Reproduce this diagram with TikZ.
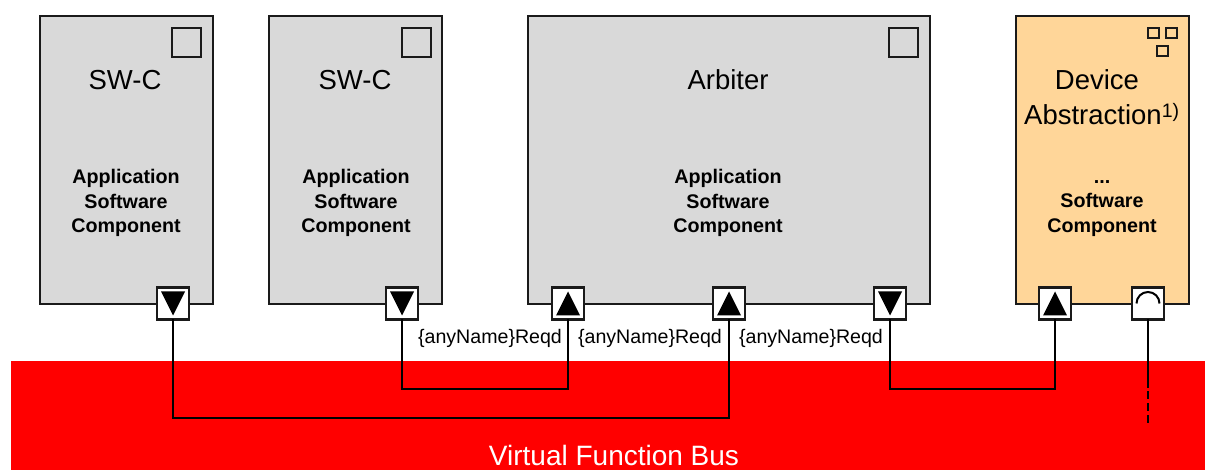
\documentclass[tikz,border=0pt]{standalone}
\usepackage{fontspec}
\setmainfont{Liberation Sans}
\definecolor{boxgrey}{HTML}{D9D9D9}
\definecolor{boxorange}{HTML}{FFD699}
\definecolor{linek}{HTML}{1A1A1A}
\tikzset{
  comp/.style={draw=linek,line width=2.4pt,rectangle,inner sep=0pt,outer sep=0pt,anchor=north west},
  mark box/.style={draw=linek,line width=2pt,rectangle,inner sep=0pt,outer sep=0pt,minimum size=#1,anchor=north west},
  port/.style={draw=linek,fill=white,line width=2.4pt,rectangle,inner sep=0pt,outer sep=0pt,minimum size=32pt},
  portup/.style={port,path picture={\fill[black] ([shift={(-12pt,-12pt)}]path picture bounding box.center) -- ++(24pt,0pt) -- ++(-12pt,24pt) -- cycle;}},
  portdown/.style={port,path picture={\fill[black] ([shift={(-12pt,12pt)}]path picture bounding box.center) -- ++(24pt,0pt) -- ++(-12pt,-24pt) -- cycle;}},
  portarc/.style={port,path picture={\draw[black,line width=2pt] ([shift={(-11.5pt,0pt)}]path picture bounding box.center) arc[start angle=180,end angle=0,radius=11.5pt];}},
  wire/.style={draw=black,line width=2.3pt,line join=miter},
  title/.style={font=\fontsize{27.5}{30}\selectfont,text=black,inner sep=0pt},
  kind/.style={font=\bfseries\fontsize{19.7}{24.5}\selectfont,align=center,text=black,inner sep=0pt},
  reqd/.style={font=\fontsize{19.6}{22}\selectfont,text=black,inner sep=0pt},
}
\begin{document}
\begin{tikzpicture}[x=1pt,y=-1pt]
\useasboundingbox (0,0) rectangle (1205,470);
% bus
\node[fill=red,rectangle,inner sep=0pt,outer sep=0pt,minimum width=1194pt,minimum height=109pt,anchor=north west] (bus) at (11,361) {};
\node[font=\fontsize{28}{30}\selectfont,text=white,inner sep=0pt] (buslabel) at (614,455) {Virtual Function Bus};
% components
\node[comp,fill=boxgrey,minimum width=173pt,minimum height=288pt] (c1) at (40,16) {};
\node[comp,fill=boxgrey,minimum width=173pt,minimum height=288pt] (c2) at (269,16) {};
\node[comp,fill=boxgrey,minimum width=402pt,minimum height=288pt] (c3) at (528,16) {};
\node[comp,fill=boxorange,minimum width=173pt,minimum height=288pt] (c4) at (1016,16) {};
% corner marks
\node[mark box=29pt] (m1) at (172,28) {};
\node[mark box=29pt] (m2) at (402,28) {};
\node[mark box=29pt] (m3) at (889,28) {};
\node[mark box=10.5pt] (m4a) at (1148,28) {};
\node[mark box=10.5pt] (m4b) at (1166,28) {};
\node[mark box=10.5pt] (m4c) at (1157,46) {};
% titles
\node[title] (t1) at (125,80) {SW-C};
\node[title] (t2) at (355,80) {SW-C};
\node[title] (t3) at (728,80) {Arbiter};
\node[title] (t4a) at (1097,80) {Device};
\node[title,anchor=west] (t4b) at (1024,114) {Abstraction\raisebox{7.5pt}{\fontsize{19.5}{20}\selectfont 1)}};
% kinds
\node[kind] (k1) at (126,203) {Application\\Software\\Component};
\node[kind] (k2) at (356,203) {Application\\Software\\Component};
\node[kind] (k3) at (728,203) {Application\\Software\\Component};
\node[kind] (k4) at (1102,203) {\vphantom{Ap}...\\Software\\Component};
% ports
\node[portdown] (p1) at (173,303.5) {};
\node[portdown] (p2) at (402,303.5) {};
\node[portup] (p3) at (568,303.5) {};
\node[portup] (p4) at (729,303.5) {};
\node[portdown] (p5) at (890,303.5) {};
\node[portup] (p6) at (1055,303.5) {};
\node[portarc] (p7) at (1148,303.5) {};
% route helpers
\coordinate (r1) at (450,418);
\coordinate (r2) at (480,389);
\coordinate (r3) at (970,389);
\coordinate (r4) at (1148,388);
\coordinate (r4b) at (1148,391);
\coordinate (r5) at (1148,424);
% wires
\draw[wire] (p1.south) |- (r1) -| (p4.south);
\draw[wire] (p2.south) |- (r2) -| (p3.south);
\draw[wire] (p5.south) |- (r3) -| (p6.south);
\draw[wire] (p7.south) -- (r4);
\draw[wire,dash pattern=on 8pt off 4pt] (r4b) -- (r5);
% labels
\node[reqd] (l1) at (490,338) {\{anyName\}Reqd};
\node[reqd] (l2) at (650,338) {\{anyName\}Reqd};
\node[reqd] (l3) at (811,338) {\{anyName\}Reqd};
\end{tikzpicture}
\end{document}
